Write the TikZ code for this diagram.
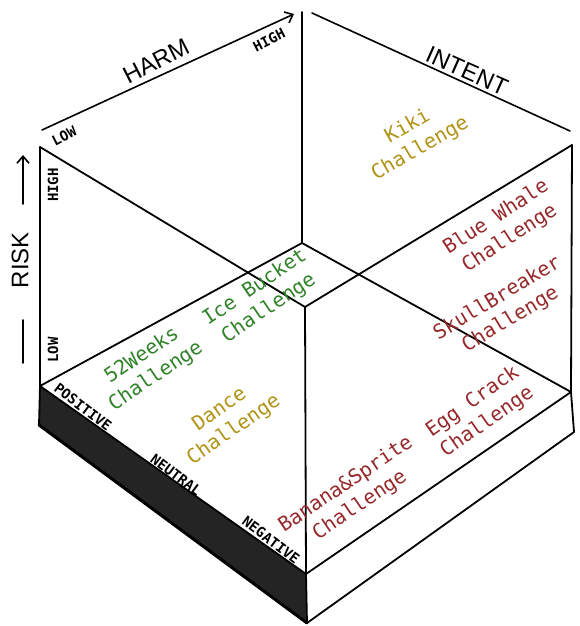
\documentclass[tikz,border=0pt]{standalone}
\usepackage{fontspec}
\setmonofont{DejaVu Sans Mono}
\newfontfamily\titlefont{Liberation Sans}
\usetikzlibrary{arrows.meta}
\definecolor{chgreen}{RGB}{48,130,40}
\definecolor{chgold}{RGB}{176,146,20}
\definecolor{chred}{RGB}{150,40,42}

\begin{document}
\begin{tikzpicture}[x=1pt,y=-1pt,
  edge/.style={line width=1.8pt, line cap=round, line join=round},
  axisline/.style={line width=1.6pt, line cap=round},
  axistip/.style={-{Straight Barb[length=7pt,width=12pt,line width=1.6pt]}},
  axistitle/.style={font=\titlefont\fontsize{24}{24}\selectfont, inner sep=0pt},
  ticklabel/.style={font=\ttfamily\bfseries\fontsize{14}{14}\selectfont, inner sep=0pt},
  challenge/.style={font=\ttfamily\fontsize{20}{25}\selectfont, align=center, inner sep=0pt},
]
\useasboundingbox (0,0) rectangle (579,626);

% cube corners
\coordinate (A)  at (40,147);   % top left
\coordinate (B)  at (302,12);   % top back
\coordinate (C)  at (572,145);  % top right
\coordinate (F)  at (305,307);  % top front
\coordinate (BB) at (302,243);  % bottom back
\coordinate (L)  at (40,386);   % bottom left
\coordinate (R)  at (571,392);  % bottom right
\coordinate (D)  at (306,574);  % bottom front
% base slab
\coordinate (L2) at (39,425);
\coordinate (D2) at (307,623);
\coordinate (R2) at (574,432);

% slab faces
\fill[black!86] (L) -- (D) -- (D2) -- (L2) -- cycle;
\draw[edge, line width=3pt] (L2) -- (D2);
\draw[edge] (L) -- (D) -- (D2) -- (L2) -- cycle;
\draw[edge] (D) -- (R) -- (R2) -- (D2);

% cube edges
\draw[edge] (B) -- (BB);
\draw[edge] (BB) -- (L);
\draw[edge] (BB) -- (R);
\draw[edge] (A) -- (F) -- (C);
\draw[edge] (F) -- (D);
\draw[edge] (A) -- (L);
\draw[edge] (C) -- (R);

% harm axis
\coordinate (h0) at (42,130);
\coordinate (h1) at (294,14);
\draw[axisline, axistip] (h0) -- (h1);
\node[axistitle, rotate=27] (harm) at (156,61) {HARM};
\node[ticklabel, rotate=27] (harmlow) at (64,136) {LOW};
\node[ticklabel, rotate=27] (harmhigh) at (269,40) {HIGH};

% intent axis
\coordinate (i0) at (312,13);
\coordinate (i1) at (570,131);
\draw[axisline] (i0) -- (i1);
\node[axistitle, rotate=-24] (intent) at (467,71) {INTENT};

% risk axis
\coordinate (r0) at (23,204);
\coordinate (r1) at (23,155);
\coordinate (r2) at (23,320);
\coordinate (r3) at (23,363);
\draw[axisline, axistip] (r0) -- (r1);
\draw[axisline] (r2) -- (r3);
\node[axistitle, rotate=90] (risk) at (20,260) {RISK};
\node[ticklabel, rotate=90] (riskhigh) at (53,185) {HIGH};
\node[ticklabel, rotate=90] (risklow) at (53,350) {LOW};

% sentiment scale along the base
\node[ticklabel, rotate=-37] (pos) at (83,407) {POSITIVE};
\node[ticklabel, rotate=-37] (neu) at (176,475) {NEUTRAL};
\node[ticklabel, rotate=-37] (neg) at (271,540) {NEGATIVE};

% challenges
\node[challenge, chgold, rotate=30] (kiki) at (414,138) {Kiki\\Challenge};
\node[challenge, chred, rotate=33] (blue) at (503,228) {Blue Whale\\Challenge};
\node[challenge, chred, rotate=31] (skull) at (504,309) {SkullBreaker\\Challenge};
\node[challenge, chgreen, rotate=34] (weeks) at (149,366) {52Weeks\\Challenge};
\node[challenge, chgreen, rotate=34] (ice) at (262,298) {Ice Bucket\\Challenge};
\node[challenge, chgold, rotate=35] (dance) at (227,420) {Dance\\Challenge};
\node[challenge, chred, rotate=34] (banana) at (353,495) {Banana\&Sprite\\Challenge};
\node[challenge, chred, rotate=35] (egg) at (480,412) {Egg Crack\\Challenge};
\end{tikzpicture}
\end{document}
